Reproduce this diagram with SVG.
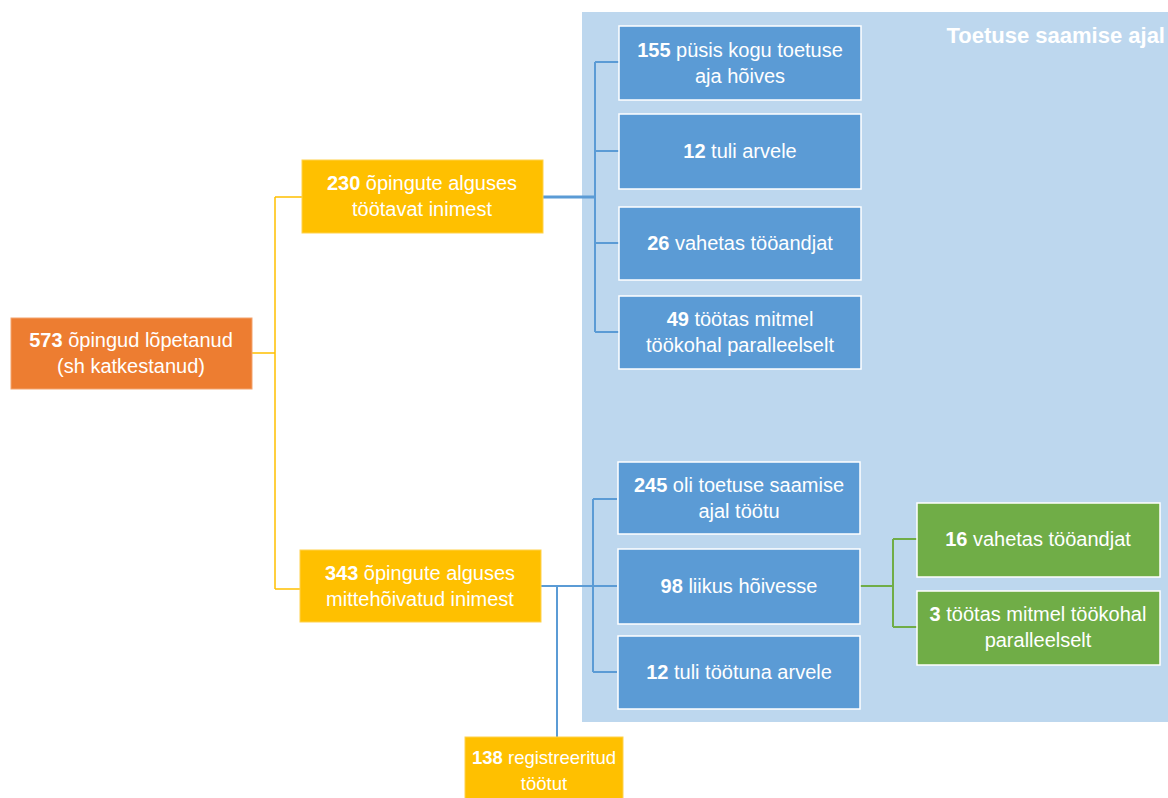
<svg xmlns="http://www.w3.org/2000/svg" width="1168" height="798" viewBox="0 0 1168 798">
<style>
text{font-family:"Liberation Sans",Arial,sans-serif;font-size:20px;fill:#fff;text-anchor:middle}
.b{font-weight:bold}
.blue{fill:#5B9BD5;stroke:#fff;stroke-width:1.5}
.green{fill:#70AD47;stroke:#fff;stroke-width:1.5}
.yel{fill:#FFC000;stroke:#FFD24D;stroke-width:1}
.org{fill:#ED7D31;stroke:#F3A46F;stroke-width:1}
.cy{stroke:#FFC000;stroke-width:1.5;fill:none}
.cb{stroke:#5B9BD5;stroke-width:2;fill:none}
.cg{stroke:#70AD47;stroke-width:2;fill:none}
</style>
<rect width="1168" height="798" fill="#fff"/>
<g id="panel">
<rect x="582" y="12" width="590" height="710" fill="#BDD7EE"/>
<text x="1165" y="43" class="b" style="text-anchor:end;font-size:22px">Toetuse saamise ajal</text>
</g>
<g id="connectors">
<path class="cy" d="M252 353 H275 M275 197 V589 M275 197 H302 M275 589 H300"/>
<path class="cb" d="M543 197 H595" style="stroke-width:3"/>
<path class="cb" d="M595 62 V332 M595 62 H619 M595 151 H619 M595 243 H619 M595 332 H619"/>
<path class="cb" d="M541 586 H617 M593 499 V672 M593 499 H617 M593 672 H617 M557 586 V737"/>
<path class="cg" d="M860 586 H893 M893 539 V627 M893 539 H917 M893 627 H917"/>
</g>
<g id="n573">
<rect class="org" x="11" y="318" width="241" height="71"/>
<text x="131" y="347"><tspan class="b">573</tspan> õpingud lõpetanud</text>
<text x="131" y="373">(sh katkestanud)</text>
</g>
<g id="n230">
<rect class="yel" x="302" y="160" width="241" height="73"/>
<text x="422" y="190"><tspan class="b">230</tspan> õpingute alguses</text>
<text x="422" y="216">töötavat inimest</text>
</g>
<g id="n343">
<rect class="yel" x="300" y="550" width="241" height="72"/>
<text x="420" y="580"><tspan class="b">343</tspan> õpingute alguses</text>
<text x="420" y="606">mittehõivatud inimest</text>
</g>
<g id="n138">
<rect class="yel" x="465" y="737" width="158" height="70"/>
<text x="544" y="764" style="font-size:18.5px"><tspan class="b">138</tspan> registreeritud</text>
<text x="544" y="790" style="font-size:18.5px">töötut</text>
</g>
<g id="n155">
<rect class="blue" x="619" y="26" width="242" height="74"/>
<text x="740" y="57"><tspan class="b">155</tspan> püsis kogu toetuse</text>
<text x="740" y="83">aja hõives</text>
</g>
<g id="n12a">
<rect class="blue" x="619" y="114" width="242" height="75"/>
<text x="740" y="158"><tspan class="b">12</tspan> tuli arvele</text>
</g>
<g id="n26">
<rect class="blue" x="619" y="207" width="242" height="73"/>
<text x="740" y="250"><tspan class="b">26</tspan> vahetas tööandjat</text>
</g>
<g id="n49">
<rect class="blue" x="619" y="296" width="242" height="73"/>
<text x="740" y="326"><tspan class="b">49</tspan> töötas mitmel</text>
<text x="740" y="352">töökohal paralleelselt</text>
</g>
<g id="n245">
<rect class="blue" x="618" y="462" width="242" height="72"/>
<text x="739" y="492"><tspan class="b">245</tspan> oli toetuse saamise</text>
<text x="739" y="518">ajal töötu</text>
</g>
<g id="n98">
<rect class="blue" x="618" y="549" width="242" height="75"/>
<text x="739" y="593"><tspan class="b">98</tspan> liikus hõivesse</text>
</g>
<g id="n12b">
<rect class="blue" x="618" y="636" width="242" height="73"/>
<text x="739" y="679"><tspan class="b">12</tspan> tuli töötuna arvele</text>
</g>
<g id="n16">
<rect class="green" x="917" y="503" width="243" height="74"/>
<text x="1038" y="546"><tspan class="b">16</tspan> vahetas tööandjat</text>
</g>
<g id="n3">
<rect class="green" x="917" y="591" width="243" height="74"/>
<text x="1038" y="621"><tspan class="b">3</tspan> töötas mitmel töökohal</text>
<text x="1038" y="647">paralleelselt</text>
</g>
</svg>
